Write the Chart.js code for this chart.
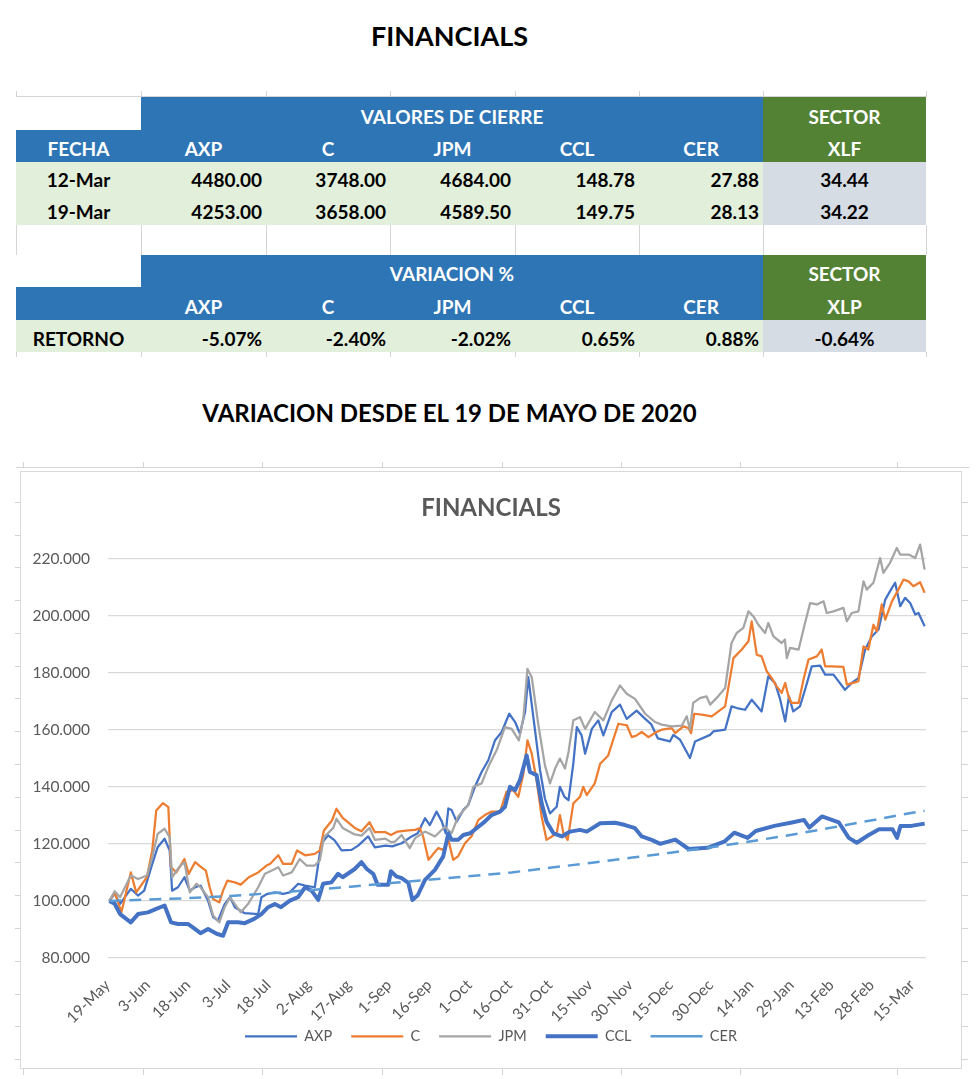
<!DOCTYPE html>
<html><head><meta charset="utf-8">
<script src="https://cdn.jsdelivr.net/npm/chart.js@4.4.0/dist/chart.umd.min.js"></script>
<style>
body{margin:0;width:980px;height:1079px;background:#fff;position:relative;overflow:hidden;font-family:Lato,'Open Sans',sans-serif;}
.ttl{position:absolute;left:0;width:899px;text-align:center;font-weight:bold;color:#000;white-space:nowrap}
#t1{top:20px;font-size:27px;line-height:32px}
#t2{top:398px;font-size:24px;line-height:29px}
#tb{position:absolute;left:16px;top:97px;border-collapse:collapse;table-layout:fixed;width:910px}
#tb td{padding:0 4px 2px 4px;vertical-align:bottom;font-weight:bold;font-size:19px;line-height:23px;white-space:nowrap;overflow:hidden;color:#000}
#tb td.b{background:#2E75B6;color:#fff;text-align:center}
#tb td.g{background:#548235;color:#fff;text-align:center}
#tb td.l{background:#E2EFDA}
#tb td.r{text-align:right}
#tb td.c{text-align:center}
#tb td.s{background:#D6DCE4;text-align:center}
.dl{position:absolute}
#box{position:absolute;left:20px;top:471px;width:940px;height:596px;border:1px solid #D9D9D9;background:#fff}
#cv{position:absolute;left:0;top:0}
</style></head>
<body>
<div id="t1" class="ttl">FINANCIALS</div>
<table id="tb">
<colgroup><col style="width:125px"><col style="width:125px"><col style="width:124px"><col style="width:125px"><col style="width:124px"><col style="width:124px"><col style="width:163px"></colgroup>
<tr style="height:33px"><td></td><td class="b" colspan="5">VALORES DE CIERRE</td><td class="g">SECTOR</td></tr>
<tr style="height:32px"><td class="b">FECHA</td><td class="b">AXP</td><td class="b">C</td><td class="b">JPM</td><td class="b">CCL</td><td class="b">CER</td><td class="g">XLF</td></tr>
<tr style="height:31px"><td class="l c">12-Mar</td><td class="l r">4480.00</td><td class="l r">3748.00</td><td class="l r">4684.00</td><td class="l r">148.78</td><td class="l r">27.88</td><td class="s">34.44</td></tr>
<tr style="height:32px"><td class="l c">19-Mar</td><td class="l r">4253.00</td><td class="l r">3658.00</td><td class="l r">4589.50</td><td class="l r">149.75</td><td class="l r">28.13</td><td class="s">34.22</td></tr>
<tr style="height:30px"><td></td><td></td><td></td><td></td><td></td><td></td><td></td></tr>
<tr style="height:32px"><td></td><td class="b" colspan="5">VARIACION %</td><td class="g">SECTOR</td></tr>
<tr style="height:33px"><td class="b"></td><td class="b">AXP</td><td class="b">C</td><td class="b">JPM</td><td class="b">CCL</td><td class="b">CER</td><td class="g">XLP</td></tr>
<tr style="height:32px"><td class="l c">RETORNO</td><td class="l r">-5.07%</td><td class="l r">-2.40%</td><td class="l r">-2.02%</td><td class="l r">0.65%</td><td class="l r">0.88%</td><td class="s">-0.64%</td></tr>
</table>
<div id="t2" class="ttl">VARIACION DESDE EL 19 DE MAYO DE 2020</div>
<div id="box"><canvas id="cv" width="940" height="596"></canvas></div>
<script>
// ---- data (days since 19-May-2020, normalised values, 100 = 19-May) ----
const MONTHS = ['Jan','Feb','Mar','Apr','May','Jun','Jul','Aug','Sep','Oct','Nov','Dec'];
const TICK_DAYS = [0,15,30,45,60,75,90,105,120,135,150,165,180,195,210,225,240,255,270,285,300];
const Y_TICKS = [80,100,120,140,160,180,200,220];
const SERIES_NAMES = ['AXP','C','JPM','CCL','CER'];

const AXP_DAYS = [0,2,4,8,10.7,13,16,18,20.6,22.5,23.4,25.6,28,30,32,34,36.8,38.7,40.5,43,45,46.8,50.5,55.5,56.7,59,61.7,64.8,67.3,70.4,73,76.6,79,81.6,84,86.6,90.3,92.8,96.5,99,103,105.5,109,112.7,115,117.7,119.5,122,124,125.4,126.4,127.6,129.5,132,133.8,136.3,138.8,141.3,143.8,146.3,149.1,151.3,153.1,155,156.2,158.1,160.6,162.4,164.3,166.8,168,169.7,171.2,173,174.3,176.1,177.4,179.9,182.3,184.2,187.3,190.4,192.9,196.6,199.8,202,204.5,209,210.3,212.8,216.5,218.4,224,225.2,229.6,232,234,237,239.5,243.2,245.7,248.2,250,252,253.4,255,257.5,259.4,261.9,265,266.9,270,274.3,276.8,279.3,281.8,284.3,286.8,289.3,291.8,293,294.9,296.7,298.6,300.5,301.7,304];
const AXP = [100,102.5,99,104.2,101.9,103.6,113,118.8,121.8,117.7,103.6,104.8,108.3,103.6,104.8,105.4,100.1,94.3,93.1,98.9,101.3,97.8,95.7,95.4,101.3,102.5,103,102.5,103,106,105.4,104.8,120,123,121.2,117.7,117.9,119.4,122.6,118.8,119.4,119.1,120.2,122.6,123.7,129,126.6,131.3,127.8,123.7,132.4,131.9,127.8,131.9,133.6,140,145.2,149.3,156.3,159.2,165.6,162.7,158.6,166.2,178.4,164.4,145.8,135.9,130.7,133,140,136.5,135.3,148.1,160.9,158,151.6,160.3,163.3,158,166.2,168.8,163.8,166.7,163.8,162,157,155.9,158.2,156.5,150.1,155.9,158.2,159.4,160,168.2,167.6,167,170.5,166.4,178.7,176.4,171.1,162.9,171.7,166.4,168.2,174,182.2,182.5,179.3,179.3,174,176.4,178.1,188.1,192.7,195.1,205.6,209.7,211.5,203.3,206.2,204.4,200.4,200.9,196.3];

const C_DAYS = [0,2,4.5,8,10,14,16,17.5,20,22,23,25,28,29.6,32,34,36,37.4,38.7,41,42.4,44,46.8,49,52,55.5,58.6,60,63,64.8,68,70,73,76.6,78.5,80,83,84.7,87,91.5,94,97,99,103,105,107.5,111.5,114,115.8,117,119,121,122.6,124.5,126.4,128.2,130,132.6,135,137.6,140,142.5,145.7,148.1,150.6,152.5,154.4,155.9,157.5,159.3,161.2,163,165,166.8,168,169.3,170.9,173,175.5,176.7,178,181,183,186,189.8,193,194.8,196.6,198.5,201,204,206,209.7,211,214,215.9,216.9,218.1,220.9,224.6,229.6,232.7,235.8,238.3,239.5,241.4,243.2,245.1,247,248.8,250.7,252,253.2,254.4,257,258.8,260.7,263.8,265.6,266.9,269.4,273.7,275,277.4,279.3,281.2,283,284.9,286.2,288,289.3,291.8,294.2,296.1,298,299.8,302.3,304];
const C = [100,103,96,110,103,108.3,117.7,131.7,134.3,132.9,111.8,110,114.7,109.5,113.6,112,110.6,104.8,100.7,99.5,103.6,107.1,106.5,105.7,108.3,110,112.4,113,116,113,113,117.7,116,116.5,117.7,124.7,128.2,132.3,129.1,125.6,124.4,127.6,124.1,124.1,123.1,124.3,124.7,124.9,125.5,122.6,114.4,116.7,118.5,117.9,121.4,114.4,115.6,120.2,122.6,128.4,130.1,131.3,131.3,138.3,138.8,136.5,144.7,156.3,151.6,142.3,129.5,121.4,122.6,123.7,130.1,123.7,121.4,134.2,136.5,140,137.1,141.2,148.1,151,162.1,161.5,157.4,158,159.2,157.4,159.2,160,160.6,158.8,161.2,160.6,158.8,165.6,165.3,164.7,168.2,185.1,188.1,191,198,186.3,185.7,180.5,178.1,175.2,172.9,176.4,171.7,169.4,169.4,177.5,184.6,185.7,188.1,182.2,182.2,182,175.8,176.4,177,189.2,188.1,196.8,194.5,203.9,198.6,205,209.1,212.6,212,210.3,211.7,208];

const JPM_DAYS = [0,2,4,8,10.7,14,16,18,20.6,22.5,23.4,26,28,30,32.5,34,36.8,38.7,41,43,45,46.8,49,51.7,55.5,58,60.4,63,64.8,68,71,73.5,76.6,78.5,80,83.5,84.7,87,91.5,94,97,99,103,105,106.5,109,112,114,117.7,121.4,125.1,127.6,130,133.8,135.7,138.8,141.3,144.4,147.5,150,152.7,154.4,155.9,157.5,159.9,162.4,164.3,166.2,168,169.9,171.2,173,175.5,177.4,181,184.2,187.3,190.4,192.9,196,199.8,203.5,205.9,209.7,213.4,215.3,216.5,217.7,220.2,222.7,224,227,229.6,232,233.9,236.4,238.3,240.1,242,244.5,245.7,247.6,250.7,251.9,252.6,253.8,257,259.4,261.3,263.8,266.3,267.5,270,273.7,275,276.8,279.3,281.2,282.4,284.9,287.4,288.6,291.1,293.6,294.9,298,300.5,302.3,304];
const JPM = [100,103.4,101.3,108.9,107.7,108.9,115.3,123.5,125.3,122.3,108.3,111.8,113.6,103,106,104.8,101.3,94.9,92.5,97.8,101.3,98.9,96,98.9,104.8,109.5,110.6,111.8,108.9,110,114.7,112.4,112.4,114.2,122.3,125.6,128.8,125.6,123.3,122.9,125.6,121.4,121.8,120.6,120.8,123.1,118.5,122,124.3,122.6,126,123.7,129.5,133.6,140,141.2,147,152.8,160.9,160.3,156.3,164.4,181.3,178.4,162.1,147.6,141.2,146.4,149.9,146.4,152.2,163.3,164.4,160.3,166.2,163.3,170.2,175.5,172.6,170.8,165.6,162.7,161.8,161.2,161.4,164.7,160,169.4,171.1,171.7,168.8,171.7,174.6,190.4,193.9,195.7,201.5,199.8,196.8,193.9,197.4,192.7,190.4,191.6,185.1,188.7,188.1,197.4,204.4,203.9,205,200.9,201.5,202.7,198,200.9,201.5,212,209.1,211.5,220.2,215,218.5,223.7,221.4,221.4,220.2,224.9,216.1];

const CCL_DAYS = [0,2,4,8,10.7,14.4,17.5,20.6,23,25.6,29.4,31,34,36.8,40,42.4,44.3,48,50.5,54,56.7,59.2,61.7,64,67.3,70.4,73,75.4,77.9,79.7,82.8,85.3,87,91.5,94,96,98.4,100,104,105,107,109,111.5,113,115,117.7,121.4,124.5,126.4,127.6,130,132,134.5,137.6,140,142.5,145.7,147.5,149.4,151.3,153.1,155.6,156.8,159.3,161.2,163,165.6,168.7,171.8,175.5,178,183,188.6,192.3,196,198.5,202.2,205.4,211,216,223,229.5,233,238,241,248,254.5,259,261,265.7,272,275.7,278.7,283,287,292,293.7,295,299,304];
const CCL = [100,99,95.4,92.5,95.4,96,97.2,98.4,92.5,91.9,91.9,90.8,88.7,90.2,88.5,87.8,92.5,92.5,92.2,93.7,95.4,97.8,98.9,97.8,100.1,101.3,104.8,103.6,100.4,106,106.5,109.5,108.3,111.2,113.6,111.2,109.5,105.7,105.7,110.4,108.6,108,106.3,100.3,102,107.4,110.9,115.6,123.7,121.4,121.4,123.1,123.7,126,127.8,130.1,131.3,133,140,138.8,142.3,151,145.2,144.1,134.2,127.8,123.7,122.6,124.3,124.9,124.3,127.2,127.4,126.6,125.5,122.6,121.4,120,121.5,118.2,118.6,120.9,123.9,122.1,124.5,126.3,127.5,128.4,125.7,129.6,127.5,122.1,120.4,123,125.1,125.1,122.1,126.3,126.3,127.1];

const CER_DAYS = [0,15,30,45,60,75,90,105,120,135,150,165,180,195,210,225,240,255,270,285,300,304];
const CER = [100,100.5,101,101.7,102.7,103.8,105,106.3,107.5,108.7,110,111.7,113.4,115.2,117,118.9,121,123.3,125.8,128.4,131,131.6];

// ---- sheet gridline decorations ----
function dl(x,y,w,h){const d=document.createElement('div');d.className='dl';d.style.cssText='left:'+x+'px;top:'+y+'px;width:'+w+'px;height:'+h+'px;background:#D4D4D4';document.body.appendChild(d);}
dl(16,96,911,1);
[16,141,266,390,515,639,763,926].forEach(x=>{dl(x,91,1,5);dl(x,225,1,30);dl(x,352,1,5);});
dl(16,467,953,1);
[23,143,262,382,502,621,740,897].forEach(x=>{dl(x,462,1,5);dl(x,1069,1,6);});
for(let y=501.7;y<1068;y+=32.8){dl(15,Math.round(y),5,1);dl(962,Math.round(y),6,1);}

// ---- chart ----
function dayLabel(d){const dt=new Date(2020,4,19+d);return dt.getDate()+'-'+MONTHS[dt.getMonth()];}
function pts(days,vals){return days.map((d,i)=>({x:d,y:vals[i]}));}
const FONT='Lato';
const FS=15.5;
const datasets=[
 {label:SERIES_NAMES[0],data:pts(AXP_DAYS,AXP),borderColor:'#4472C4',borderWidth:2.25,order:5},
 {label:SERIES_NAMES[1],data:pts(C_DAYS,C),borderColor:'#ED7D31',borderWidth:2.25,order:4},
 {label:SERIES_NAMES[2],data:pts(JPM_DAYS,JPM),borderColor:'#A5A5A5',borderWidth:2.25,order:3},
 {label:SERIES_NAMES[3],data:pts(CCL_DAYS,CCL),borderColor:'#4472C4',borderWidth:4,order:2},
 {label:SERIES_NAMES[4],data:pts(CER_DAYS,CER),borderColor:'#5B9BD5',borderWidth:2.5,borderDash:[12,8],order:1}
].map(d=>Object.assign({backgroundColor:d.borderColor,pointRadius:0,pointHoverRadius:0,fill:false,tension:0,borderJoinStyle:'round'},d));

// keep the legend row where the reference has it, below the rotated date labels
const legendPlace={
 id:'legendPlace',
 beforeLayout(chart){const lg=chart.legend;if(lg&&!lg._patched){const f=lg.fit;lg.fit=function(){f.call(this);this.height=30;};lg._patched=true;}},
 afterLayout(chart){const lg=chart.legend;if(lg){lg.top=538;lg.bottom=585;}}
};

new Chart(document.getElementById('cv'),{
 type:'line',
 data:{datasets},
 plugins:[legendPlace],
 options:{
  responsive:false,animation:false,
  layout:{padding:{left:0,right:0,top:0,bottom:0}},
  plugins:{
   title:{display:true,text:'FINANCIALS',color:'#595959',font:{family:FONT,size:24,weight:'bold'},padding:{top:21.6,bottom:7.6}},
   legend:{position:'bottom',labels:{usePointStyle:true,pointStyle:'line',pointStyleWidth:52,padding:19,color:'#595959',font:{family:FONT,size:14.5},sort:(a,b)=>a.datasetIndex-b.datasetIndex}},
   tooltip:{enabled:false}
  },
  scales:{
   x:{type:'linear',min:-0.5,max:304.5,grid:{display:false},border:{display:false},
      ticks:{minRotation:45,maxRotation:45,autoSkip:false,color:'#595959',font:{family:FONT,size:FS},padding:10,labelOffset:-2,callback:v=>dayLabel(v)},
      afterBuildTicks:s=>{s.ticks=TICK_DAYS.map(v=>({value:v}));},
      afterFit:s=>{s.height=80;}},
   y:{min:80,max:230,grid:{color:'#D9D9D9',lineWidth:1.25,drawTicks:false},border:{display:false},
      ticks:{color:'#595959',font:{family:FONT,size:FS},padding:18,callback:v=>Number(v).toFixed(3)},
      afterBuildTicks:s=>{s.ticks=Y_TICKS.map(v=>({value:v}));},
      afterFit:s=>{s.width=87;}},
   y2:{position:'right',grid:{display:false},border:{display:false},ticks:{display:false},afterFit:s=>{s.width=35;}}
  }
 }
});
</script>
</body></html>
